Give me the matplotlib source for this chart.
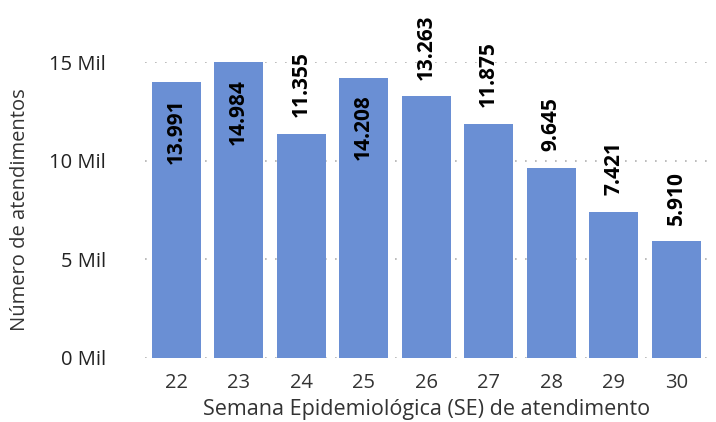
import matplotlib
matplotlib.use("Agg")
import matplotlib.pyplot as plt

semanas = ["22", "23", "24", "25", "26", "27", "28", "29", "30"]
atendimentos = [13991, 14984, 11355, 14208, 13263, 11875, 9645, 7421, 5910]
rotulos = ["13.991", "14.984", "11.355", "14.208", "13.263", "11.875", "9.645", "7.421", "5.910"]
dentro = [True, True, False, True, False, False, False, False, False]
yticks = [0, 5000, 10000, 15000]
ytick_labels = ["0 Mil", "5 Mil", "10 Mil", "15 Mil"]

plt.rcParams['font.family'] = ['Open Sans', 'DejaVu Sans']

fig = plt.figure(figsize=(7.16, 4.22), dpi=100)
ax = fig.add_axes([0.2025, 0.1517, 0.7855, 0.7013])

x = list(range(len(semanas)))
ax.bar(x, atendimentos, width=0.78, color="#6a8fd4", zorder=2)

for xi, v, lab, ins in zip(x, atendimentos, rotulos, dentro):
    if ins:
        ax.annotate(lab, (xi, v), xytext=(0, -12), textcoords="offset points",
                    rotation=90, ha="center", va="top", fontsize=15,
                    fontweight="bold", color="black", annotation_clip=False)
    else:
        ax.annotate(lab, (xi, v), xytext=(0, 12), textcoords="offset points",
                    rotation=90, ha="center", va="bottom", fontsize=15,
                    fontweight="bold", color="black", annotation_clip=False)

ax.set_xlim(-0.5, 8.5)
ax.set_ylim(0, 15000)
ax.set_xticks(x)
ax.set_xticklabels(semanas, fontsize=14.5, color="#333333")
ax.set_yticks(yticks)
ax.set_yticklabels(ytick_labels, fontsize=14.5, color="#222222")
ax.tick_params(axis="x", length=0, pad=11)
ax.tick_params(axis="y", length=0, pad=28)
for s in ax.spines.values():
    s.set_visible(False)
ax.grid(axis="y", linestyle=(0, (1, 5)), color="#b0b0b0", linewidth=1.2, zorder=0)
ax.set_axisbelow(True)

ax.set_ylabel("Número de atendimentos", fontsize=14.5, color="#333333", labelpad=14)
ax.set_xlabel("Semana Epidemiológica (SE) de atendimento", fontsize=15.5, color="#333333", labelpad=4)

fig.savefig("out.png", dpi=100)
